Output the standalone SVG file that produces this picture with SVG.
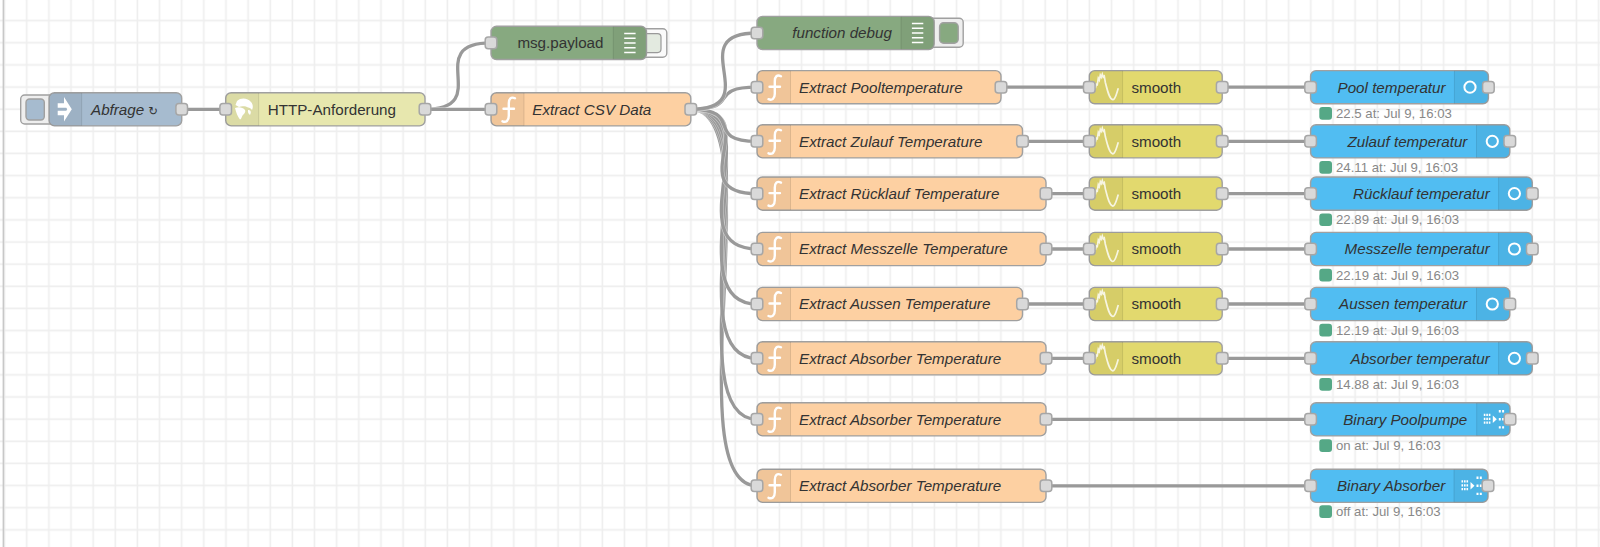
<svg xmlns="http://www.w3.org/2000/svg" xmlns:xlink="http://www.w3.org/1999/xlink" width="1600" height="547" viewBox="0 0 1600 547">
<style>
text{font-family:"Liberation Sans",Arial,"DejaVu Sans",sans-serif;font-size:15.2px;fill:#333}
.i{font-style:italic}
.e{text-anchor:end}
.st{font-size:13.2px;fill:#888}
.n{stroke:#a0a0a0;stroke-width:1.4}
.sec{fill:#000;fill-opacity:.05}
.div{stroke:#000;stroke-opacity:.1;stroke-width:1}
.p{fill:#d9d9d9;stroke:#a6a6a6;stroke-width:1.5}
.w{fill:none;stroke:#999;stroke-width:3.3}
.h{fill:none;stroke:#fff;stroke-opacity:.45;stroke-width:4.6}
.inj{fill:#a6bbcf}.http{fill:#e7e7ae}.dbg{fill:#87a980}.fn{fill:#fdd0a2}.sm{fill:#e2d96e}.ui{fill:#51bdf2}
.s{fill:#55a886}
.ic{fill:#fff}
.icl{fill:none;stroke:#fff;stroke-width:2.4;stroke-linecap:round}
</style>
<defs>
<pattern id="grid" patternUnits="userSpaceOnUse" x="-6.4" y="9.7" width="22.14" height="22.14">
<path d="M11 0V22.14M0 11H22.14" stroke="#eee" stroke-width="1.6" fill="none"/>
</pattern>
<g id="fi"><path class="icl" d="M24 -11C20 -13 17.8 -10.5 17.8 -6V6.5C17.8 11.5 15 13.5 11.5 12M12.5 -0.5H23"/></g>
<g id="si"><path d="M6 1L7 -3L8 -2.5L9 -9L10 -7L11 -12L12 -10L13 -13L14 -10L15 -11L16 -5C18 3 20 12 23.5 12.5C26 12.5 27 7 29 1" fill="none" stroke="#fff" stroke-opacity=".8" stroke-width="1.7"/></g>
<g id="li"><path d="M-5.7 -9.5H5.7M-5.7 -4.75H5.7M-5.7 0H5.7M-5.7 4.75H5.7M-5.7 9.5H5.7" stroke="#fff" stroke-width="1.5"/></g>
<circle id="ci" r="5.6" fill="none" stroke="#fff" stroke-width="2"/>
<g id="bi" class="ic"><path d="M-9.5 -5.5h1.6v2.2h-1.6zM-7 -5.5h1.6v2.2h-1.6zM-4.5 -5.5h1.6v2.2h-1.6zM-9.5 -1.6h1.6v2.2h-1.6zM-7 -1.6h1.6v2.2h-1.6zM-4.5 -1.6h1.6v2.2h-1.6zM-9.5 2.3h1.6v2.2h-1.6zM-7 2.3h1.6v2.2h-1.6zM-4.5 2.3h1.6v2.2h-1.6zM-0.5 -3.8L3.5 0L-0.5 3.8zM5.5 -9.3h2v2.4h-2zM8.8 -9.3h2v2.4h-2zM5.5 -1.2h2v2.4h-2zM8.8 -1.2h2v2.4h-2zM5.5 6.9h2v2.4h-2zM8.8 6.9h2v2.4h-2z"/></g>
</defs>
<rect width="1600" height="547" fill="#fff"/>
<rect width="1600" height="547" fill="url(#grid)"/>
<rect x="2.6" y="0" width="1.6" height="547" fill="#c8c8c8"/>

<g id="connectors">
<path class="h" d="M181.7 109.3H225.7"/><path class="w" d="M181.7 109.3H225.7"/>
<path class="h" d="M425 109.3C495 109.3 421 42.9 491 42.9"/><path class="w" d="M425 109.3C495 109.3 421 42.9 491 42.9"/>
<path class="h" d="M425 109.3H491"/><path class="w" d="M425 109.3H491"/>
<path class="h" d="M690.8 109.3C773.8 109.3 674 485.8 757 485.8"/><path class="w" d="M690.8 109.3C773.8 109.3 674 485.8 757 485.8"/>
<path class="h" d="M690.8 109.3C773.8 109.3 674 419.3 757 419.3"/><path class="w" d="M690.8 109.3C773.8 109.3 674 419.3 757 419.3"/>
<path class="h" d="M690.8 109.3C773.8 109.3 674 358.3 757 358.3"/><path class="w" d="M690.8 109.3C773.8 109.3 674 358.3 757 358.3"/>
<path class="h" d="M690.8 109.3C773.8 109.3 674 304 757 304"/><path class="w" d="M690.8 109.3C773.8 109.3 674 304 757 304"/>
<path class="h" d="M690.8 109.3C773.8 109.3 674 249 757 249"/><path class="w" d="M690.8 109.3C773.8 109.3 674 249 757 249"/>
<path class="h" d="M690.8 109.3C771 109.3 677 193.6 757 193.6"/><path class="w" d="M690.8 109.3C771 109.3 677 193.6 757 193.6"/>
<path class="h" d="M690.8 109.3C746 109.3 702 141.3 757 141.3"/><path class="w" d="M690.8 109.3C746 109.3 702 141.3 757 141.3"/>
<path class="h" d="M690.8 109.3C743 109.3 705 87.2 757 87.2"/><path class="w" d="M690.8 109.3C743 109.3 705 87.2 757 87.2"/>
<path class="h" d="M690.8 109.3C768 109.3 680 33 757 33"/><path class="w" d="M690.8 109.3C768 109.3 680 33 757 33"/>
<path class="w" d="M1001 87.2H1089.3M1222.2 87.2H1310.6"/>
<path class="w" d="M1022.5 141.3H1089.3M1222.2 141.3H1310.6"/>
<path class="w" d="M1046 193.6H1089.3M1222.2 193.6H1310.6"/>
<path class="w" d="M1046 249H1089.3M1222.2 249H1310.6"/>
<path class="w" d="M1022.5 304H1089.3M1222.2 304H1310.6"/>
<path class="w" d="M1046 358.3H1089.3M1222.2 358.3H1310.6"/>
<path class="w" d="M1046 419.3H1310.6"/>
<path class="w" d="M1046 485.8H1310.6"/>
</g>

<g id="inject">
<rect x="20.7" y="95" width="34" height="29" rx="4" fill="#eee" class="n"/>
<rect x="26" y="99" width="18.3" height="21" rx="3.5" class="inj n"/>
<rect x="49" y="92.7" width="132.7" height="33.2" rx="5.5" class="inj n"/>
<path class="sec" d="M54.5 92.7H81.7V125.9H54.5A5.5 5.5 0 0 1 49 120.4V98.2A5.5 5.5 0 0 1 54.5 92.7Z"/>
<path class="div" d="M81.7 93V125.6"/>
<path class="ic" d="M57.7 103.3H64V97L71.8 109.3L64 121.6V115.3H57.7V110.8H66.3L67.2 109.3L66.3 107.8H57.7Z"/>
<text class="i" x="91" y="114.6">Abfrage <tspan font-size="11.5">↻</tspan></text>
<rect x="175.9" y="103.5" width="11.6" height="11.6" rx="3" class="p"/>
</g>

<g id="http">
<rect x="225.7" y="92.7" width="199.3" height="33.2" rx="5.5" class="http n"/>
<path class="sec" d="M231.2 92.7H258.7V125.9H231.2A5.5 5.5 0 0 1 225.7 120.4V98.2A5.5 5.5 0 0 1 231.2 92.7Z"/>
<path class="div" d="M258.7 93V125.6"/>
<path class="ic" d="M237 101C241 97 248 98 251 102C253.500 105 253 108 252 110C250 107 248 108 246 106.500C243 106 241 106 239 107L235.500 105ZM235 108C239 106.500 243 107.500 245 110C246 112 244 114 242.500 115.500C241.500 117 241.500 119 240 119.500C237.500 116.500 236 112 235 108ZM248 110C250 110 252 111 250 115C248.500 114 247.500 112 248 110Z"/>
<text x="267.7" y="114.6">HTTP-Anforderung</text>
<rect x="219.9" y="103.5" width="11.6" height="11.6" rx="3" class="p"/>
<rect x="419.2" y="103.5" width="11.6" height="11.6" rx="3" class="p"/>
</g>

<g id="msg-payload">
<rect x="636" y="28.7" width="30.8" height="28.6" rx="4" fill="#fafafa" class="n"/>
<rect x="636" y="33.6" width="25" height="19" rx="3.5" fill="#e3eae0" stroke="#999" stroke-width="1.2"/>
<rect x="491" y="26.3" width="155.5" height="33.2" rx="5.5" class="dbg n"/>
<path class="sec" d="M613.3 26.3H641A5.5 5.5 0 0 1 646.5 31.8V54A5.5 5.5 0 0 1 641 59.5H613.3Z"/>
<path class="div" d="M613.3 26.6V59.2"/>
<use xlink:href="#li" href="#li" x="629.9" y="42.9"/>
<text class="e" x="603.5" y="48.2">msg.payload</text>
<rect x="485.2" y="37.1" width="11.6" height="11.6" rx="3" class="p"/>
</g>

<g id="function-debug">
<rect x="925" y="18.3" width="38.2" height="29" rx="4" fill="#eee" class="n"/>
<rect x="939.6" y="22.7" width="18.6" height="20.6" rx="4" class="dbg n"/>
<rect x="757" y="16.4" width="177.2" height="33.2" rx="5.5" class="dbg n"/>
<path class="sec" d="M901 16.4H928.7A5.5 5.5 0 0 1 934.2 21.9V44.1A5.5 5.5 0 0 1 928.7 49.6H901Z"/>
<path class="div" d="M901 16.7V49.3"/>
<use xlink:href="#li" href="#li" x="917.6" y="33"/>
<text class="i e" x="891.9" y="38.3">function debug</text>
<rect x="751.2" y="27.2" width="11.6" height="11.6" rx="3" class="p"/>
</g>

<g id="extract-csv">
<rect x="491" y="92.7" width="199.8" height="33.2" rx="5.5" class="fn n"/>
<path class="sec" d="M496.5 92.7H524V125.9H496.5A5.5 5.5 0 0 1 491 120.4V98.2A5.5 5.5 0 0 1 496.5 92.7Z"/>
<path class="div" d="M524 93V125.6"/>
<use xlink:href="#fi" href="#fi" x="491" y="109.3"/>
<text class="i" x="532.3" y="114.6">Extract CSV Data</text>
<rect x="485.2" y="103.5" width="11.6" height="11.6" rx="3" class="p"/>
<rect x="685" y="103.5" width="11.6" height="11.6" rx="3" class="p"/>
</g>

<g id="fn-pool"><rect x="757" y="70.6" width="244" height="33.2" rx="5.5" class="fn n"/><path class="sec" d="M762.5 70.6H790.5V103.8H762.5A5.5 5.5 0 0 1 757 98.3V76.1A5.5 5.5 0 0 1 762.5 70.6Z"/><path class="div" d="M790.5 70.9V103.5"/><use xlink:href="#fi" href="#fi" x="757" y="87.2"/><text class="i" x="799" y="92.5">Extract Pooltemperature</text><rect x="751.2" y="81.4" width="11.6" height="11.6" rx="3" class="p"/><rect x="995.2" y="81.4" width="11.6" height="11.6" rx="3" class="p"/></g>
<g id="fn-zulauf"><rect x="757" y="124.7" width="265.5" height="33.2" rx="5.5" class="fn n"/><path class="sec" d="M762.5 124.7H790.5V157.9H762.5A5.5 5.5 0 0 1 757 152.4V130.2A5.5 5.5 0 0 1 762.5 124.7Z"/><path class="div" d="M790.5 125V157.6"/><use xlink:href="#fi" href="#fi" x="757" y="141.3"/><text class="i" x="799" y="146.6">Extract Zulauf Temperature</text><rect x="751.2" y="135.5" width="11.6" height="11.6" rx="3" class="p"/><rect x="1016.7" y="135.5" width="11.6" height="11.6" rx="3" class="p"/></g>
<g id="fn-ruecklauf"><rect x="757" y="177" width="289" height="33.2" rx="5.5" class="fn n"/><path class="sec" d="M762.5 177H790.5V210.2H762.5A5.5 5.5 0 0 1 757 204.7V182.5A5.5 5.5 0 0 1 762.5 177Z"/><path class="div" d="M790.5 177.3V209.9"/><use xlink:href="#fi" href="#fi" x="757" y="193.6"/><text class="i" x="799" y="198.9">Extract Rücklauf Temperature</text><rect x="751.2" y="187.8" width="11.6" height="11.6" rx="3" class="p"/><rect x="1040.2" y="187.8" width="11.6" height="11.6" rx="3" class="p"/></g>
<g id="fn-messzelle"><rect x="757" y="232.4" width="289" height="33.2" rx="5.5" class="fn n"/><path class="sec" d="M762.5 232.4H790.5V265.6H762.5A5.5 5.5 0 0 1 757 260.1V237.9A5.5 5.5 0 0 1 762.5 232.4Z"/><path class="div" d="M790.5 232.7V265.3"/><use xlink:href="#fi" href="#fi" x="757" y="249"/><text class="i" x="799" y="254.3">Extract Messzelle Temperature</text><rect x="751.2" y="243.2" width="11.6" height="11.6" rx="3" class="p"/><rect x="1040.2" y="243.2" width="11.6" height="11.6" rx="3" class="p"/></g>
<g id="fn-aussen"><rect x="757" y="287.4" width="265.5" height="33.2" rx="5.5" class="fn n"/><path class="sec" d="M762.5 287.4H790.5V320.6H762.5A5.5 5.5 0 0 1 757 315.1V292.9A5.5 5.5 0 0 1 762.5 287.4Z"/><path class="div" d="M790.5 287.7V320.3"/><use xlink:href="#fi" href="#fi" x="757" y="304"/><text class="i" x="799" y="309.3">Extract Aussen Temperature</text><rect x="751.2" y="298.2" width="11.6" height="11.6" rx="3" class="p"/><rect x="1016.7" y="298.2" width="11.6" height="11.6" rx="3" class="p"/></g>
<g id="fn-absorber"><rect x="757" y="341.7" width="289" height="33.2" rx="5.5" class="fn n"/><path class="sec" d="M762.5 341.7H790.5V374.9H762.5A5.5 5.5 0 0 1 757 369.4V347.2A5.5 5.5 0 0 1 762.5 341.7Z"/><path class="div" d="M790.5 342V374.6"/><use xlink:href="#fi" href="#fi" x="757" y="358.3"/><text class="i" x="799" y="363.6">Extract Absorber Temperature</text><rect x="751.2" y="352.5" width="11.6" height="11.6" rx="3" class="p"/><rect x="1040.2" y="352.5" width="11.6" height="11.6" rx="3" class="p"/></g>
<g id="fn-absorber-2"><rect x="757" y="402.7" width="289" height="33.2" rx="5.5" class="fn n"/><path class="sec" d="M762.5 402.7H790.5V435.9H762.5A5.5 5.5 0 0 1 757 430.4V408.2A5.5 5.5 0 0 1 762.5 402.7Z"/><path class="div" d="M790.5 403V435.6"/><use xlink:href="#fi" href="#fi" x="757" y="419.3"/><text class="i" x="799" y="424.6">Extract Absorber Temperature</text><rect x="751.2" y="413.5" width="11.6" height="11.6" rx="3" class="p"/><rect x="1040.2" y="413.5" width="11.6" height="11.6" rx="3" class="p"/></g>
<g id="fn-absorber-3"><rect x="757" y="469.2" width="289" height="33.2" rx="5.5" class="fn n"/><path class="sec" d="M762.5 469.2H790.5V502.4H762.5A5.5 5.5 0 0 1 757 496.9V474.7A5.5 5.5 0 0 1 762.5 469.2Z"/><path class="div" d="M790.5 469.5V502.1"/><use xlink:href="#fi" href="#fi" x="757" y="485.8"/><text class="i" x="799" y="491.1">Extract Absorber Temperature</text><rect x="751.2" y="480" width="11.6" height="11.6" rx="3" class="p"/><rect x="1040.2" y="480" width="11.6" height="11.6" rx="3" class="p"/></g>

<g id="smooth-1"><rect x="1089.3" y="70.6" width="132.9" height="33.2" rx="5.5" class="sm n"/><path class="sec" d="M1094.8 70.6H1122.6V103.8H1094.8A5.5 5.5 0 0 1 1089.3 98.3V76.1A5.5 5.5 0 0 1 1094.8 70.6Z"/><path class="div" d="M1122.6 70.9V103.5"/><use xlink:href="#si" href="#si" x="1089.3" y="87.2"/><text x="1131.4" y="92.5">smooth</text><rect x="1083.5" y="81.4" width="11.6" height="11.6" rx="3" class="p"/><rect x="1216.4" y="81.4" width="11.6" height="11.6" rx="3" class="p"/></g>
<g id="smooth-2"><rect x="1089.3" y="124.7" width="132.9" height="33.2" rx="5.5" class="sm n"/><path class="sec" d="M1094.8 124.7H1122.6V157.9H1094.8A5.5 5.5 0 0 1 1089.3 152.4V130.2A5.5 5.5 0 0 1 1094.8 124.7Z"/><path class="div" d="M1122.6 125V157.6"/><use xlink:href="#si" href="#si" x="1089.3" y="141.3"/><text x="1131.4" y="146.6">smooth</text><rect x="1083.5" y="135.5" width="11.6" height="11.6" rx="3" class="p"/><rect x="1216.4" y="135.5" width="11.6" height="11.6" rx="3" class="p"/></g>
<g id="smooth-3"><rect x="1089.3" y="177" width="132.9" height="33.2" rx="5.5" class="sm n"/><path class="sec" d="M1094.8 177H1122.6V210.2H1094.8A5.5 5.5 0 0 1 1089.3 204.7V182.5A5.5 5.5 0 0 1 1094.8 177Z"/><path class="div" d="M1122.6 177.3V209.9"/><use xlink:href="#si" href="#si" x="1089.3" y="193.6"/><text x="1131.4" y="198.9">smooth</text><rect x="1083.5" y="187.8" width="11.6" height="11.6" rx="3" class="p"/><rect x="1216.4" y="187.8" width="11.6" height="11.6" rx="3" class="p"/></g>
<g id="smooth-4"><rect x="1089.3" y="232.4" width="132.9" height="33.2" rx="5.5" class="sm n"/><path class="sec" d="M1094.8 232.4H1122.6V265.6H1094.8A5.5 5.5 0 0 1 1089.3 260.1V237.9A5.5 5.5 0 0 1 1094.8 232.4Z"/><path class="div" d="M1122.6 232.7V265.3"/><use xlink:href="#si" href="#si" x="1089.3" y="249"/><text x="1131.4" y="254.3">smooth</text><rect x="1083.5" y="243.2" width="11.6" height="11.6" rx="3" class="p"/><rect x="1216.4" y="243.2" width="11.6" height="11.6" rx="3" class="p"/></g>
<g id="smooth-5"><rect x="1089.3" y="287.4" width="132.9" height="33.2" rx="5.5" class="sm n"/><path class="sec" d="M1094.8 287.4H1122.6V320.6H1094.8A5.5 5.5 0 0 1 1089.3 315.1V292.9A5.5 5.5 0 0 1 1094.8 287.4Z"/><path class="div" d="M1122.6 287.7V320.3"/><use xlink:href="#si" href="#si" x="1089.3" y="304"/><text x="1131.4" y="309.3">smooth</text><rect x="1083.5" y="298.2" width="11.6" height="11.6" rx="3" class="p"/><rect x="1216.4" y="298.2" width="11.6" height="11.6" rx="3" class="p"/></g>
<g id="smooth-6"><rect x="1089.3" y="341.7" width="132.9" height="33.2" rx="5.5" class="sm n"/><path class="sec" d="M1094.8 341.7H1122.6V374.9H1094.8A5.5 5.5 0 0 1 1089.3 369.4V347.2A5.5 5.5 0 0 1 1094.8 341.7Z"/><path class="div" d="M1122.6 342V374.6"/><use xlink:href="#si" href="#si" x="1089.3" y="358.3"/><text x="1131.4" y="363.6">smooth</text><rect x="1083.5" y="352.5" width="11.6" height="11.6" rx="3" class="p"/><rect x="1216.4" y="352.5" width="11.6" height="11.6" rx="3" class="p"/></g>

<g id="ui-pool"><rect x="1310.6" y="70.6" width="177.8" height="33.2" rx="5.5" class="ui n"/><path class="sec" d="M1454.4 70.6H1482.9A5.5 5.5 0 0 1 1488.4 76.1V98.3A5.5 5.5 0 0 1 1482.9 103.8H1454.4Z"/><path class="div" d="M1454.4 70.9V103.5"/><use xlink:href="#ci" href="#ci" x="1470" y="87.2"/><text class="i e" x="1445.6" y="92.5">Pool temperatur</text><rect x="1304.8" y="81.4" width="11.6" height="11.6" rx="3" class="p"/><rect x="1482.6" y="81.4" width="11.6" height="11.6" rx="3" class="p"/><rect x="1319.3" y="107" width="12.7" height="12.7" rx="3" class="s"/><text class="st" x="1336" y="118">22.5 at: Jul 9, 16:03</text></g>
<g id="ui-zulauf"><rect x="1310.6" y="124.7" width="199.2" height="33.2" rx="5.5" class="ui n"/><path class="sec" d="M1476.5 124.7H1504.3A5.5 5.5 0 0 1 1509.8 130.2V152.4A5.5 5.5 0 0 1 1504.3 157.9H1476.5Z"/><path class="div" d="M1476.5 125V157.6"/><use xlink:href="#ci" href="#ci" x="1492.3" y="141.3"/><text class="i e" x="1467.4" y="146.6">Zulauf temperatur</text><rect x="1304.8" y="135.5" width="11.6" height="11.6" rx="3" class="p"/><rect x="1504" y="135.5" width="11.6" height="11.6" rx="3" class="p"/><rect x="1319.3" y="161.1" width="12.7" height="12.7" rx="3" class="s"/><text class="st" x="1336" y="172.1">24.11 at: Jul 9, 16:03</text></g>
<g id="ui-ruecklauf"><rect x="1310.6" y="177" width="221.7" height="33.2" rx="5.5" class="ui n"/><path class="sec" d="M1498.6 177H1526.8A5.5 5.5 0 0 1 1532.3 182.5V204.7A5.5 5.5 0 0 1 1526.8 210.2H1498.6Z"/><path class="div" d="M1498.6 177.3V209.9"/><use xlink:href="#ci" href="#ci" x="1514.4" y="193.6"/><text class="i e" x="1489.8" y="198.9">Rücklauf temperatur</text><rect x="1304.8" y="187.8" width="11.6" height="11.6" rx="3" class="p"/><rect x="1526.5" y="187.8" width="11.6" height="11.6" rx="3" class="p"/><rect x="1319.3" y="213.4" width="12.7" height="12.7" rx="3" class="s"/><text class="st" x="1336" y="224.4">22.89 at: Jul 9, 16:03</text></g>
<g id="ui-messzelle"><rect x="1310.6" y="232.4" width="221.7" height="33.2" rx="5.5" class="ui n"/><path class="sec" d="M1498.6 232.4H1526.8A5.5 5.5 0 0 1 1532.3 237.9V260.1A5.5 5.5 0 0 1 1526.8 265.6H1498.6Z"/><path class="div" d="M1498.6 232.7V265.3"/><use xlink:href="#ci" href="#ci" x="1514.4" y="249"/><text class="i e" x="1489.8" y="254.3">Messzelle temperatur</text><rect x="1304.8" y="243.2" width="11.6" height="11.6" rx="3" class="p"/><rect x="1526.5" y="243.2" width="11.6" height="11.6" rx="3" class="p"/><rect x="1319.3" y="268.8" width="12.7" height="12.7" rx="3" class="s"/><text class="st" x="1336" y="279.8">22.19 at: Jul 9, 16:03</text></g>
<g id="ui-aussen"><rect x="1310.6" y="287.4" width="199.2" height="33.2" rx="5.5" class="ui n"/><path class="sec" d="M1476.5 287.4H1504.3A5.5 5.5 0 0 1 1509.8 292.9V315.1A5.5 5.5 0 0 1 1504.3 320.6H1476.5Z"/><path class="div" d="M1476.5 287.7V320.3"/><use xlink:href="#ci" href="#ci" x="1492.3" y="304"/><text class="i e" x="1467.4" y="309.3">Aussen temperatur</text><rect x="1304.8" y="298.2" width="11.6" height="11.6" rx="3" class="p"/><rect x="1504" y="298.2" width="11.6" height="11.6" rx="3" class="p"/><rect x="1319.3" y="323.8" width="12.7" height="12.7" rx="3" class="s"/><text class="st" x="1336" y="334.8">12.19 at: Jul 9, 16:03</text></g>
<g id="ui-absorber"><rect x="1310.6" y="341.7" width="221.7" height="33.2" rx="5.5" class="ui n"/><path class="sec" d="M1498.6 341.7H1526.8A5.5 5.5 0 0 1 1532.3 347.2V369.4A5.5 5.5 0 0 1 1526.8 374.9H1498.6Z"/><path class="div" d="M1498.6 342V374.6"/><use xlink:href="#ci" href="#ci" x="1514.4" y="358.3"/><text class="i e" x="1489.8" y="363.6">Absorber temperatur</text><rect x="1304.8" y="352.5" width="11.6" height="11.6" rx="3" class="p"/><rect x="1526.5" y="352.5" width="11.6" height="11.6" rx="3" class="p"/><rect x="1319.3" y="378.1" width="12.7" height="12.7" rx="3" class="s"/><text class="st" x="1336" y="389.1">14.88 at: Jul 9, 16:03</text></g>
<g id="binary-poolpumpe"><rect x="1310.6" y="402.7" width="199.4" height="33.2" rx="5.5" class="ui n"/><path class="sec" d="M1476.7 402.7H1504.5A5.5 5.5 0 0 1 1510 408.2V430.4A5.5 5.5 0 0 1 1504.5 435.9H1476.7Z"/><path class="div" d="M1476.7 403V435.6"/><use xlink:href="#bi" href="#bi" x="1493.3" y="419.3"/><text class="i e" x="1467.3" y="424.6">Binary Poolpumpe</text><rect x="1304.8" y="413.5" width="11.6" height="11.6" rx="3" class="p"/><rect x="1504.2" y="413.5" width="11.6" height="11.6" rx="3" class="p"/><rect x="1319.3" y="439.3" width="12.7" height="12.7" rx="3" class="s"/><text class="st" x="1336" y="450.2">on at: Jul 9, 16:03</text></g>
<g id="binary-absorber"><rect x="1310.6" y="469.2" width="177.4" height="33.2" rx="5.5" class="ui n"/><path class="sec" d="M1454 469.2H1482.5A5.5 5.5 0 0 1 1488 474.7V496.9A5.5 5.5 0 0 1 1482.5 502.4H1454Z"/><path class="div" d="M1454 469.5V502.1"/><use xlink:href="#bi" href="#bi" x="1471" y="485.8"/><text class="i e" x="1445.3" y="491.1">Binary Absorber</text><rect x="1304.8" y="480" width="11.6" height="11.6" rx="3" class="p"/><rect x="1482.2" y="480" width="11.6" height="11.6" rx="3" class="p"/><rect x="1319.3" y="505.3" width="12.7" height="12.7" rx="3" class="s"/><text class="st" x="1336" y="516.3">off at: Jul 9, 16:03</text></g>
</svg>
